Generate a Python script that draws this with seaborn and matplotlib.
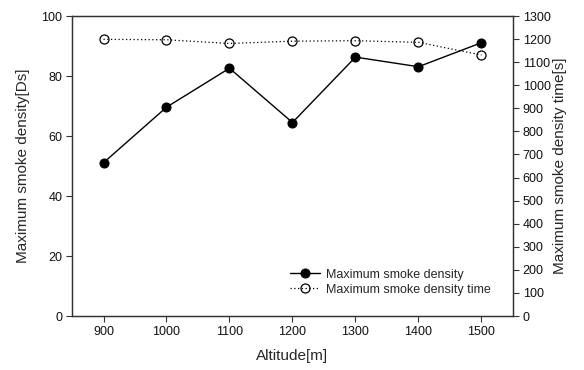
import matplotlib
matplotlib.use("Agg")
import matplotlib.pyplot as plt
import seaborn as sns
import pandas as pd

sns.set_theme(style="ticks")
plt.rcParams["font.family"] = ["Liberation Sans", "DejaVu Sans"]

altitude = [900, 1000, 1100, 1200, 1300, 1400, 1500]
max_density = [51.1, 69.6, 82.6, 64.5, 86.3, 83.1, 91.1]
max_density_time = [1199, 1197, 1181, 1191, 1193, 1186, 1131]

df = pd.DataFrame({"altitude": altitude,
                   "density": max_density,
                   "time": max_density_time})

fig = plt.figure(figsize=(5.84, 3.70), dpi=100)
ax = fig.add_axes([0.1233, 0.1459, 0.755, 0.8108])
ax2 = ax.twinx()

sns.lineplot(data=df, x="altitude", y="density", ax=ax, color="black",
             linewidth=1.0, marker="o", markersize=6.5, markeredgecolor="black",
             markerfacecolor="black", label="Maximum smoke density",
             legend=False)
sns.lineplot(data=df, x="altitude", y="time", ax=ax2, color="black",
             linewidth=0.9, linestyle=(0, (1, 2)), marker="o", markersize=6.5,
             markeredgecolor="black", markerfacecolor="none",
             markeredgewidth=0.9,
             label="Maximum smoke density time", legend=False)

ax.set_xlim(850, 1550)
ax.set_ylim(0, 100)
ax2.set_ylim(0, 1300)
ax.set_xticks(altitude)
ax.set_yticks(range(0, 101, 20))
ax2.set_yticks(range(0, 1301, 100))

for a in (ax, ax2):
    for s in a.spines.values():
        s.set_color("#333333")
        s.set_linewidth(0.9)
    a.tick_params(labelsize=9, length=4, width=0.8, color="#333333",
                  labelcolor="#111111", direction="out", pad=3)

ax.set_xlabel("Altitude[m]", fontsize=11, labelpad=8)
ax.set_ylabel("Maximum smoke density[Ds]", fontsize=11, labelpad=8)
ax2.set_ylabel("Maximum smoke density time[s]", fontsize=11, labelpad=2)

h1, l1 = ax.get_legend_handles_labels()
h2, l2 = ax2.get_legend_handles_labels()
ax2.legend(h1 + h2, l1 + l2, loc="lower right", bbox_to_anchor=(0.975, 0.03),
           frameon=False, fontsize=9, handlelength=2.4, handletextpad=0.5,
           labelspacing=0.25)

fig.savefig("out.png", dpi=100)
